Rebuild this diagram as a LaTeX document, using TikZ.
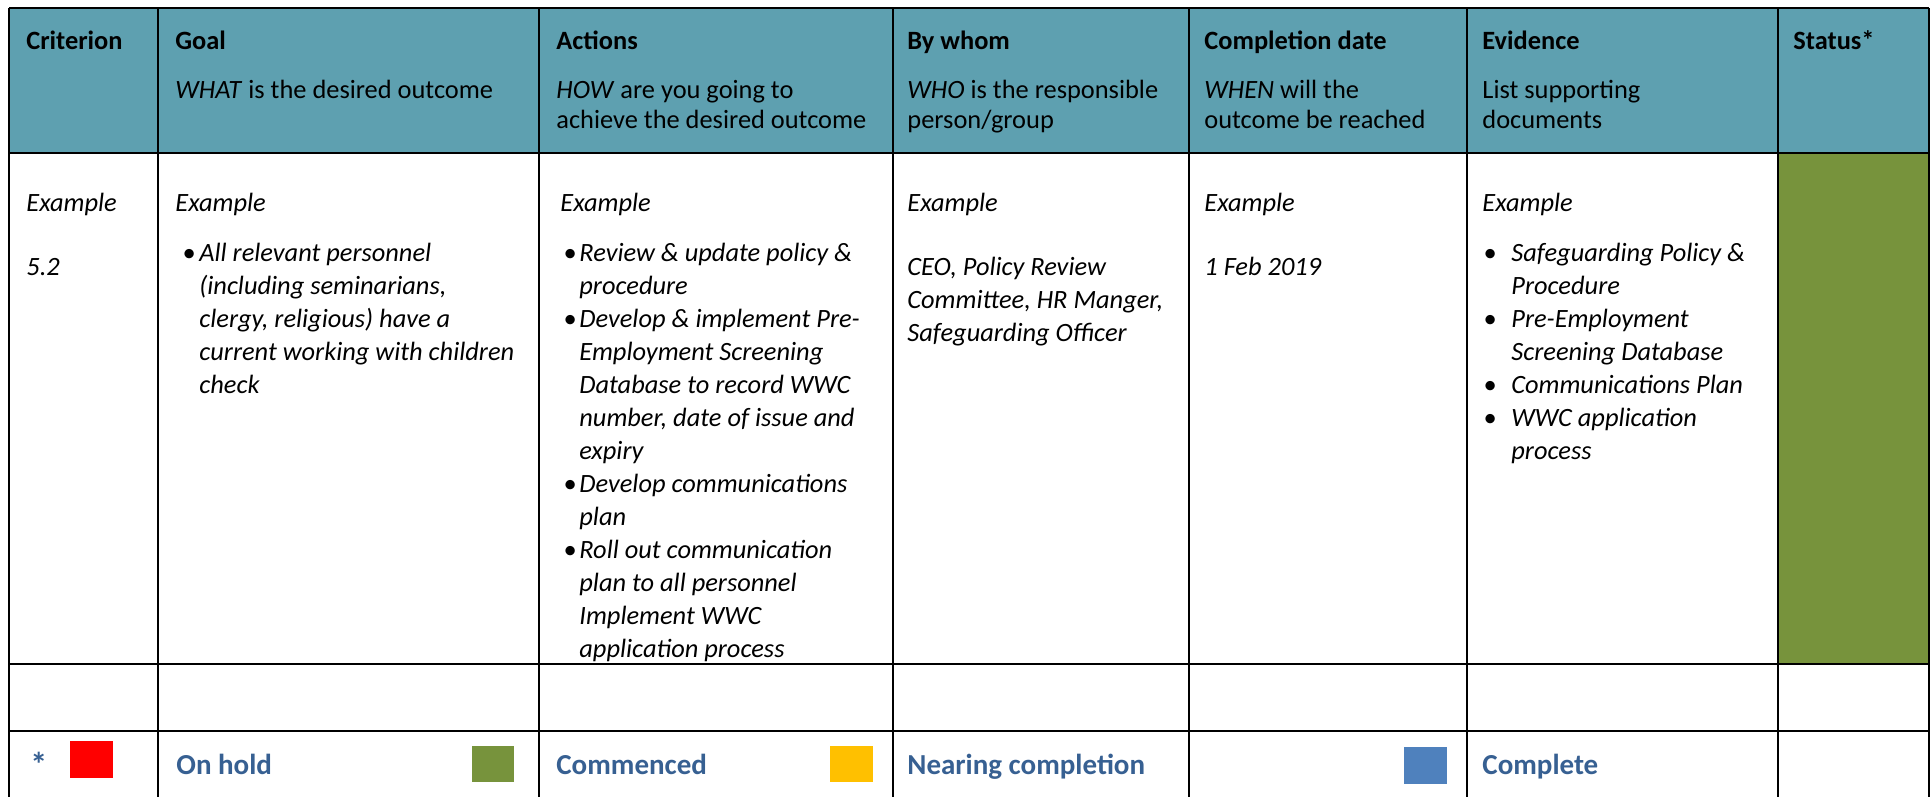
\documentclass[tikz,border=0pt]{standalone}
\usepackage{fontspec}
\setmainfont{Carlito}
\definecolor{hdr}{HTML}{5EA0B0}
\definecolor{stgreen}{HTML}{77933C}
\definecolor{styellow}{HTML}{FFC000}
\definecolor{stblue}{HTML}{4F81BD}
\definecolor{stred}{HTML}{FF0000}
\definecolor{lgtext}{HTML}{376092}
\newcommand\mybul[1]{\makebox[#1][l]{\textbullet}}
\newcommand\myind[1]{\makebox[#1]{}}
\tikzset{
  gridline/.style={line width=1.3pt, black},
  htitle/.style={anchor=base west, inner sep=0pt, font=\fontsize{13.2}{16.5}\selectfont\bfseries},
  hsub/.style={anchor=north west, inner sep=0pt, align=left, font=\fontsize{13.2}{15}\selectfont},
  bone/.style={anchor=base west, inner sep=0pt, font=\fontsize{13.2}{16.5}\selectfont\itshape},
  bmulti/.style={anchor=north west, inner sep=0pt, align=left, font=\fontsize{13.2}{16.5}\selectfont\itshape},
  legend/.style={anchor=base west, inner sep=0pt, text=lgtext, font=\fontsize{14.5}{17}\selectfont\bfseries},
}
\begin{document}
\begin{tikzpicture}[x=0.5pt,y=-0.5pt]
\useasboundingbox (0,0) rectangle (1932,797);
% fills
\fill[hdr] (9,8) rectangle (1929,153);
\fill[stgreen] (1778,153) rectangle (1929,664);
% grid
\foreach \yy in {8,153,664,731}{\draw[gridline] (9,\yy) -- (1929,\yy);}
\foreach \xx in {9,158,539,893,1189,1467,1778,1929}{\draw[gridline] (\xx,8) -- (\xx,797);}
% header titles
\node[htitle] (hCrit) at (26,50) {Criterion};
\node[htitle] (hGoal) at (175,50) {Goal};
\node[htitle] (hAct) at (556,50) {Actions};
\node[htitle] (hWho) at (907,50) {By whom};
\node[htitle] (hWhen) at (1204,50) {Completion date};
\node[htitle] (hEv) at (1482,50) {Evidence};
\node[htitle] (hStat) at (1793,50) {Status*};
% header subtitles (first baseline at 98.5)
\node[hsub] (sGoal) at (175,77.5) {\strut\textit{WHAT} is the desired outcome};
\node[hsub] (sAct) at (556,77.5) {\strut\textit{HOW} are you going to\\achieve the desired outcome};
\node[hsub] (sWho) at (907,77.5) {\strut\textit{WHO} is the responsible\\person/group};
\node[hsub] (sWhen) at (1204,77.5) {\strut\textit{WHEN} will the\\outcome be reached};
\node[hsub] (sEv) at (1482,77.5) {\strut List supporting\\documents};
% body
\node[bone] (eCrit) at (26,211) {Example};
\node[bone] (num) at (26,275) {5.2};
\node[bone] (eGoal) at (175,211) {Example};
\node[bmulti] (lGoal) at (182,237.9) {\strut\mybul{8.5pt}All relevant personnel\\
\myind{8.5pt}(including seminarians,\\
\myind{8.5pt}clergy, religious) have a\\
\myind{8.5pt}current working with children\\
\myind{8.5pt}check};
\node[bone] (eAct) at (560,211) {Example};
\node[bmulti] (lAct) at (563,237.9) {\strut\mybul{8pt}Review \& update policy \&\\
\myind{8pt}procedure\\
\mybul{8pt}Develop \& implement Pre-\\
\myind{8pt}Employment Screening\\
\myind{8pt}Database to record WWC\\
\myind{8pt}number, date of issue and\\
\myind{8pt}expiry\\
\mybul{8pt}Develop communications\\
\myind{8pt}plan\\
\mybul{8pt}Roll out communication\\
\myind{8pt}plan to all personnel\\
\myind{8pt}Implement WWC\\
\myind{8pt}application process};
\node[bone] (eWho) at (907,211) {Example};
\node[bmulti] (lWho) at (907,251.9) {\strut CEO, Policy Review\\Committee, HR Manger,\\Safeguarding Officer};
\node[bone] (eWhen) at (1204,211) {Example};
\node[bone] (date) at (1204,275) {1 Feb 2019};
\node[bone] (eEv) at (1482,211) {Example};
\node[bmulti] (lEv) at (1483,237.9) {\strut\mybul{14pt}Safeguarding Policy \&\\
\myind{14pt}Procedure\\
\mybul{14pt}Pre-Employment\\
\myind{14pt}Screening Database\\
\mybul{14pt}Communications Plan\\
\mybul{14pt}WWC application\\
\myind{14pt}process};
% legend row
\node[legend, font=\fontsize{17}{17}\selectfont\bfseries] (star) at (30,776) {*};
\fill[stred] (70,741) rectangle (113,778);
\node[legend] (lgHold) at (176,774) {On hold};
\fill[stgreen] (472,746) rectangle (514,782);
\node[legend] (lgComm) at (556,774) {Commenced};
\fill[styellow] (830,746) rectangle (873,782);
\node[legend] (lgNear) at (907,774) {Nearing completion};
\fill[stblue] (1404,747) rectangle (1447,784);
\node[legend] (lgDone) at (1482,774) {Complete};
\end{tikzpicture}
\end{document}
